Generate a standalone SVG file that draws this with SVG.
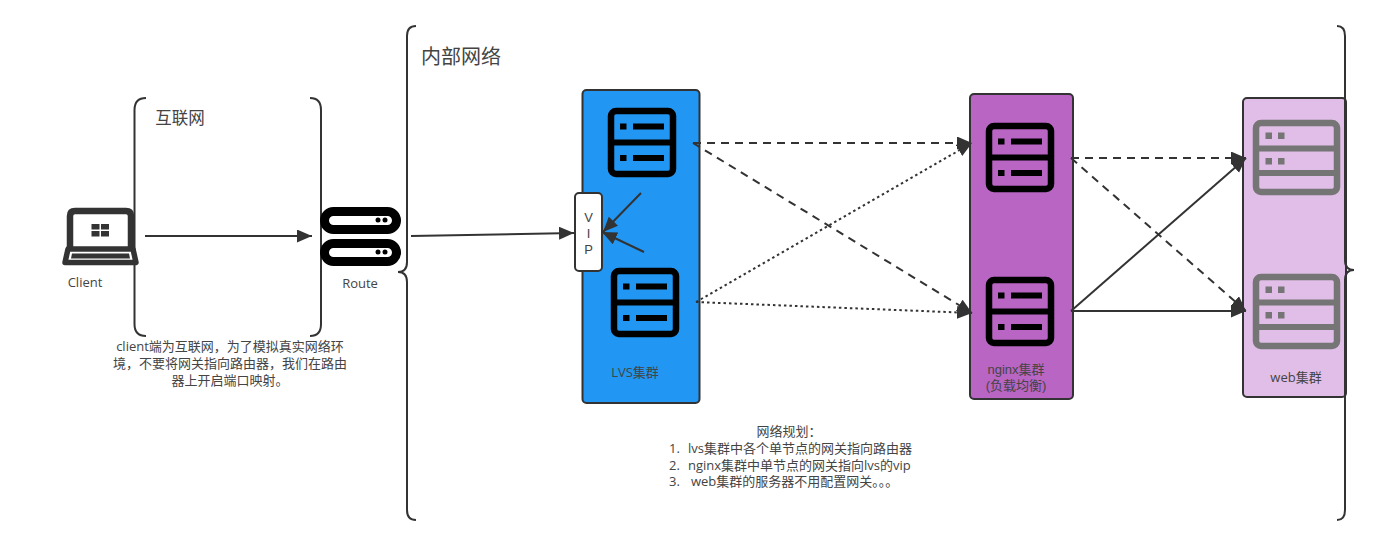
<svg xmlns="http://www.w3.org/2000/svg" width="1381" height="545" viewBox="0 0 1381 545">
<style>
text{font-family:"Open Sans","Noto Sans CJK SC",sans-serif;font-size:13px;fill:#444;text-anchor:middle}
.l{text-anchor:start}
.tight{font-family:"Liberation Sans","Noto Sans CJK SC",sans-serif}
.brace{fill:none;stroke:#333;stroke-width:2}
.box{stroke:#333;stroke-width:2}
.ln{fill:none;stroke:#333;stroke-width:2;marker-end:url(#arr)}
.dash{stroke-dasharray:8 6}
.dot{stroke-dasharray:2.500 3}
.s2 rect{fill:none;stroke:#000;stroke-width:6.500}
.s3 rect{fill:none;stroke:#757575;stroke-width:6.500}
</style>
<defs>
<marker id="arr" markerUnits="userSpaceOnUse" markerWidth="17" markerHeight="15" refX="15" refY="6.500" orient="auto">
<path d="M0,0L15,6.500L0,13Z" fill="#333"/>
</marker>
<g id="srv2" class="s2">
<rect x="3" y="3" width="62" height="63" rx="5"/>
<path d="M3,34.500H65" stroke="#000" stroke-width="6"/>
<path d="M12,15.500h6.500v6h-6.500zM25,15.500h31v6h-31zM12,47h6.500v6h-6.500zM25,47h31v6h-31z" fill="#000"/>
</g>
<g id="srv3" class="s3">
<rect x="3" y="3" width="81" height="69" rx="5"/>
<path d="M3,28.500H84M3,53H84" stroke="#757575" stroke-width="6"/>
<path d="M12.500,12.500h6.500v6.500h-6.500zM25,12.500h6.500v6.500h-6.500zM12.500,38h6.500v6.500h-6.500zM25,38h6.500v6.500h-6.500z" fill="#757575"/>
</g>
</defs>
<rect width="1381" height="545" fill="#fff"/>
<g id="brace-internet">
<path class="brace" d="M146,98Q134.500,98 134.500,110V324Q134.500,336 146,336"/>
<path class="brace" d="M310,98Q321,98 321,110V324Q321,336 310,336"/>
<text x="180" y="124" style="font-size:16.500px">互联网</text>
</g>
<g id="brace-intranet">
<path class="brace" d="M416,26Q407,26 407,36V262Q407,272 398,272Q407,272 407,282V510Q407,520 416,520"/>
<text x="461" y="64" style="font-size:20px">内部网络</text>
</g>
<g id="lvs">
<rect class="box" x="582.500" y="90" width="117" height="313" rx="4" fill="#2196f3"/>
<use href="#srv2" x="608" y="108"/>
<use href="#srv2" x="611" y="268"/>
<text x="635" y="377">LVS集群</text>
</g>
<g id="nginx">
<rect class="box" x="970" y="94" width="103" height="305" rx="4" fill="#b865c4"/>
<use href="#srv2" x="986" y="123"/>
<use href="#srv2" x="986" y="277"/>
<text class="tight" x="1016" y="374">nginx集群</text>
<text class="tight" x="1016" y="390">(负载均衡)</text>
</g>
<g id="web">
<rect class="box" x="1243" y="98" width="103" height="299" rx="4" fill="#e1bee7"/>
<use href="#srv3" x="1253" y="120"/>
<use href="#srv3" x="1253" y="274"/>
<text x="1296" y="382">web集群</text>
</g>
<g id="brace-right">
<path class="brace" d="M1337,26Q1345,26 1345,36V260Q1345,270 1354,270Q1345,270 1345,280V510Q1345,520 1337,520"/>
</g>
<g id="client">
<path d="M70,248V216Q70,211 75,211H126Q131,211 131,216V248" fill="#fff" stroke="#333" stroke-width="6.500"/>
<path d="M68,249H133L136,262.500H65Z" fill="#fff" stroke="#333" stroke-width="5.500" stroke-linejoin="round"/>
<path d="M72,253.500H129L130,258.500H71Z" fill="#333"/>
<path d="M91.500,224h8v5.500h-8zM101,224h8v5.500h-8zM91.500,231h8v5.500h-8zM101,231h8v5.500h-8z" fill="#333"/>
<text x="85" y="287">Client</text>
</g>
<g id="route">
<rect x="324.500" y="211.500" width="72" height="18" rx="9" fill="#fff" stroke="#000" stroke-width="9"/>
<rect x="324.500" y="243.500" width="72" height="18" rx="9" fill="#fff" stroke="#000" stroke-width="9"/>
<circle cx="378" cy="220" r="2.500"/><circle cx="385" cy="220" r="2.500"/>
<circle cx="378" cy="252" r="2.500"/><circle cx="385" cy="252" r="2.500"/>
<text x="360" y="288">Route</text>
</g>
<g id="connectors">
<path class="ln" d="M145,236H312"/>
<path class="ln" d="M411,236L574,233"/>
<path class="ln" d="M641,193L603,232"/>
<path class="ln" d="M644,252L602,232"/>
<path class="ln dash" d="M693,143H972"/>
<path class="ln dash" d="M693,143L972,313"/>
<path class="ln dot" d="M696,302L972,143"/>
<path class="ln dot" d="M696,302L972,313"/>
<path class="ln dash" d="M1071,158H1246"/>
<path class="ln dash" d="M1071,158L1246,311"/>
<path class="ln" d="M1071,311L1246,158"/>
<path class="ln" d="M1071,311H1246"/>
</g>
<g id="vip">
<rect class="box" x="575" y="193" width="27" height="78" rx="4" fill="#fff"/>
<text class="tight" x="588.500" y="222">V</text>
<text class="tight" x="588.500" y="238">I</text>
<text class="tight" x="588.500" y="254">P</text>
</g>
<g id="notes">
<text x="230" y="351">client端为互联网，为了模拟真实网络环</text>
<text x="230" y="368">境，不要将网关指向路由器，我们在路由</text>
<text x="230" y="385">器上开启端口映射。</text>
<text x="789" y="436">网络规划：</text>
<text class="l" x="669" y="453">1.</text><text class="l" x="688" y="453">lvs集群中各个单节点的网关指向路由器</text>
<text class="l" x="669" y="470">2.</text><text class="l" x="688" y="470">nginx集群中单节点的网关指向lvs的vip</text>
<text class="l" x="669" y="486">3.</text><text class="l" x="691" y="486">web集群的服务器不用配置网关。。。</text>
</g>
</svg>
